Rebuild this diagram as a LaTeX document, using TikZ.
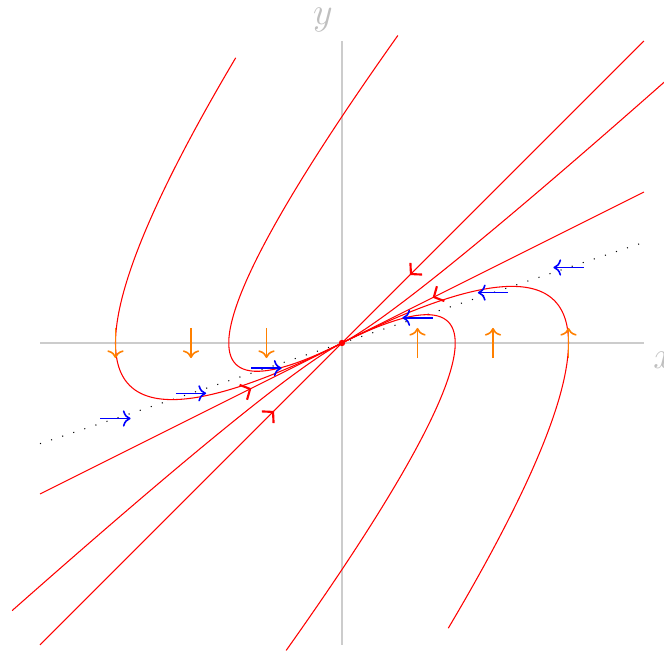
\documentclass[tikz,border=0pt]{standalone}
\usetikzlibrary{arrows.meta,decorations.markings}

\begin{document}
\begin{tikzpicture}[
    axis/.style={gray!40},
    axlabel/.style={gray!50, font=\Large},
    orbit/.style={red, smooth, samples=60, variable=\s},
    inflow/.style={red, postaction={decorate},
        decoration={markings, mark=at position #1 with {\arrow[thick]{Straight Barb[length=1mm, width=2.2mm]}}}},
    hfield/.style={-{To}, blue, semithick},
    vfield/.style={-{To}, orange, semithick},
    nullcline/.style={loosely dotted}
]
\useasboundingbox (-4.53,-4.119) rectangle (4.265,4.543);

\coordinate (O) at (0,0);

% axes
\draw[axis] (-4,0) -- (4,0) node[axlabel, below right] (xlab) {$x$};
\draw[axis] (0,-4) -- (0,4) node[axlabel, above left] (ylab) {$y$};

% y-nullcline
\draw[nullcline] (-4,-4/3) -- (4,4/3);

% straight-line solutions
\draw[inflow=0.775] (4,4) -- (O);
\draw[inflow=0.775] (-4,-4) -- (O);
\draw[inflow=0.70] (4,2) -- (O);
\draw[inflow=0.70] (-4,-2) -- (O);

% curved trajectories
\draw[orbit, domain=0:0.825] plot ({2*\s+4*\s*\s}, {\s+4*\s*\s});
\draw[orbit, domain=0:0.825] plot ({-2*\s-4*\s*\s}, {-\s-4*\s*\s});
\draw[orbit, domain=0:1.729] plot ({3*(\s*\s-2*\s)}, {3*(\s*\s-\s)});
\draw[orbit, domain=0:1.729] plot ({-3*(\s*\s-2*\s)}, {-3*(\s*\s-\s)});
\draw[orbit, domain=0:2.222] plot ({1.5*(\s*\s-2*\s)}, {1.5*(\s*\s-\s)});
\draw[orbit, domain=0:2.222] plot ({-1.5*(\s*\s-2*\s)}, {-1.5*(\s*\s-\s)});

% field on the x-axis
\draw[vfield] (-3,0.2) -- (-3,-0.2);
\draw[vfield] (-2,0.2) -- (-2,-0.2);
\draw[vfield] (-1,0.2) -- (-1,-0.2);
\draw[vfield] (1,-0.2) -- (1,0.2);
\draw[vfield] (2,-0.2) -- (2,0.2);
\draw[vfield] (3,-0.2) -- (3,0.2);

% field on the nullcline
\draw[hfield] (-3.2,-1) -- (-2.8,-1);
\draw[hfield] (-2.2,-2/3) -- (-1.8,-2/3);
\draw[hfield] (-1.2,-1/3) -- (-0.8,-1/3);
\draw[hfield] (1.2,1/3) -- (0.8,1/3);
\draw[hfield] (2.2,2/3) -- (1.8,2/3);
\draw[hfield] (3.2,1) -- (2.8,1);

% equilibrium
\fill[red] (O) circle (1.2pt);

\end{tikzpicture}
\end{document}
